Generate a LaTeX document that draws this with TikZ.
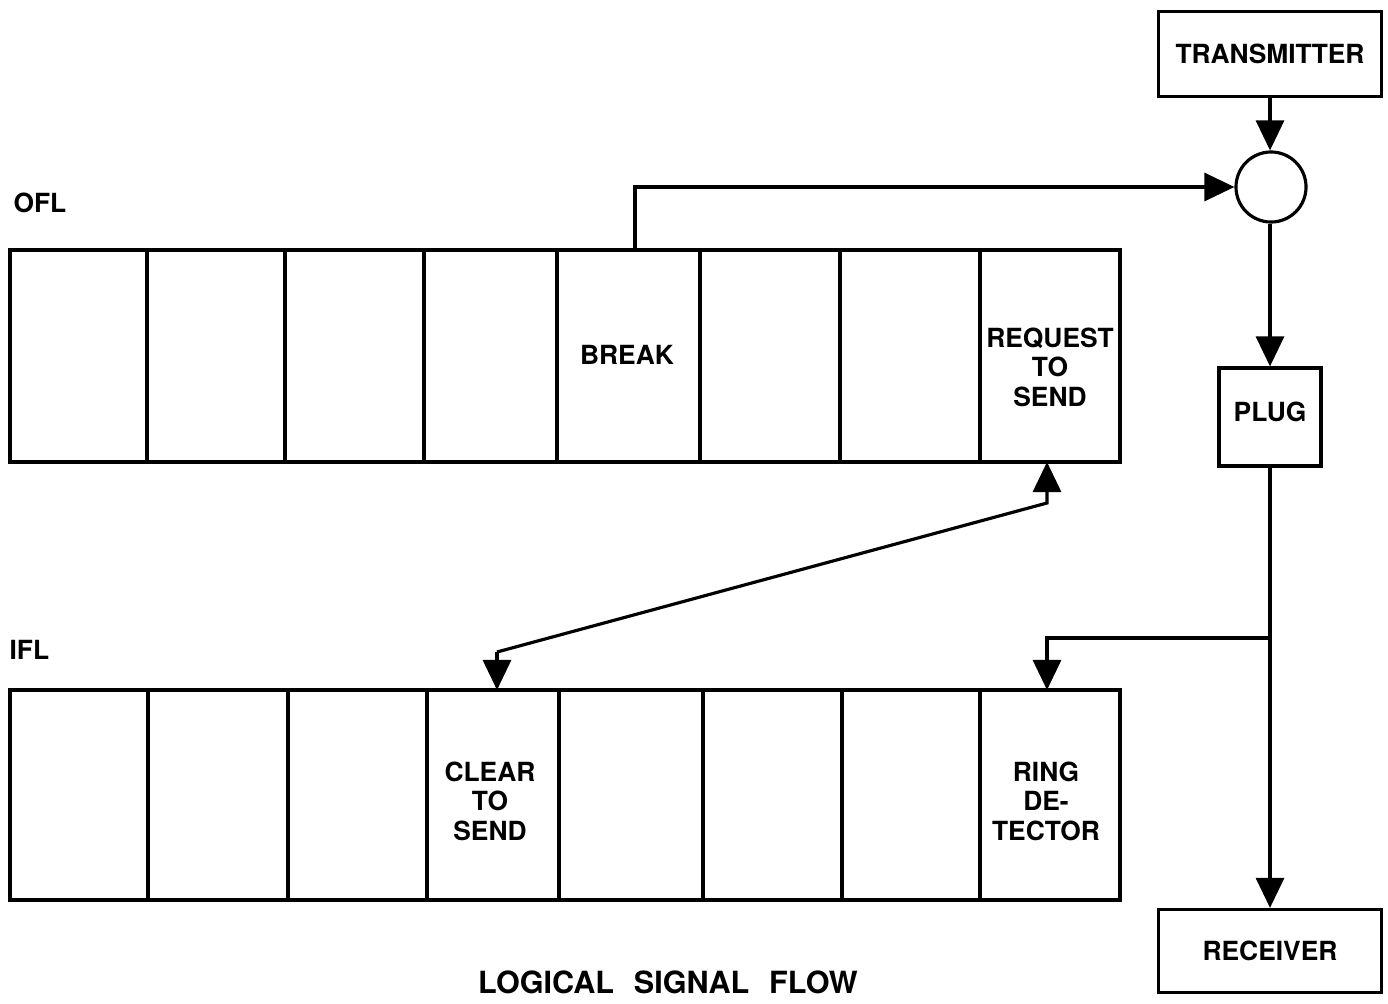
\documentclass[tikz,border=0pt]{standalone}
\usepackage{fontspec}
\setmainfont{TeX Gyre Heros}
\usepackage{tikz}
\usetikzlibrary{calc,positioning,arrows.meta,shapes.geometric}

\tikzset{
  lbl/.style={font=\fontsize{7.5}{8.4}\selectfont\bfseries, align=center, inner sep=0pt},
  unit/.style={draw, line width=0.9pt, lbl},
  arr/.style={line width=0.9pt, -{Triangle[width=0.28cm,length=0.3cm]}},
}

\begin{document}
\begin{tikzpicture}[x=0.01cm, y=-0.01cm, line width=0.9pt]
\useasboundingbox (0,0) rectangle (1388,1003);
% buffers
\draw (10,250) rectangle (1120,462);
\draw (10,690) rectangle (1120,900);
\foreach\xo in {147,285,424,557,700,840,980}
  \draw (\xo,250) -- (\xo,462);
\foreach\xi in {148,288,427,559,703,842,980}
  \draw (\xi,690) -- (\xi,900);
\node [lbl, anchor=west] (ofl) at (12,203) {OFL};
\node [lbl, anchor=west] (ifl) at (8,650) {IFL};
\node [lbl] (brk) at (627,355) {BREAK};
\node [lbl] (rts) at (1050,367) {REQUEST\\TO\\SEND};
\node [lbl] (cts) at (490,801) {CLEAR\\TO\\SEND};
\node [lbl] (rng) at (1046,801) {RING\\DE-\\TECTOR};
\coordinate (brktop) at (635,250);
\coordinate (rtsbot) at (1047,462);
\coordinate (ctstop) at (497,690);
\coordinate (rngtop) at (1047,690);
% line side
\node [unit, minimum width=2.23cm, minimum height=0.85cm] (tx) at (1270,54) {TRANSMITTER};
\node [draw, circle, minimum size=0.7cm, inner sep=0pt] (sum) at (1271,187) {};
\node [unit, minimum width=1.02cm, minimum height=0.98cm, text depth=0.1cm] (plug) at (1270,417) {PLUG};
\node [unit, minimum width=2.23cm, minimum height=0.83cm] (rx) at (1270,951) {RECEIVER};
\coordinate (br) at (1270,638);
\draw [arr] (tx.south) -- (tx.south |- sum.north);
\draw [arr] (tx.south |- sum.south) -- (plug.north);
\draw [arr] (plug.south) -- (rx.north);
\draw [arr] (brktop) |- (sum.west);
\draw [arr] (br) -| (rngtop);
\draw [arr] ($(ctstop)+(0,-38)$) -- ($(rtsbot)+(0,41)$) -- (rtsbot);
\draw [arr] ($(ctstop)+(0,-38)$) -- (ctstop);
\node [font=\fontsize{8.7}{10}\selectfont\bfseries] (ttl) at (668,982) {LOGICAL\hspace{0.65em}SIGNAL\hspace{0.65em}FLOW};
\end{tikzpicture}
\end{document}
